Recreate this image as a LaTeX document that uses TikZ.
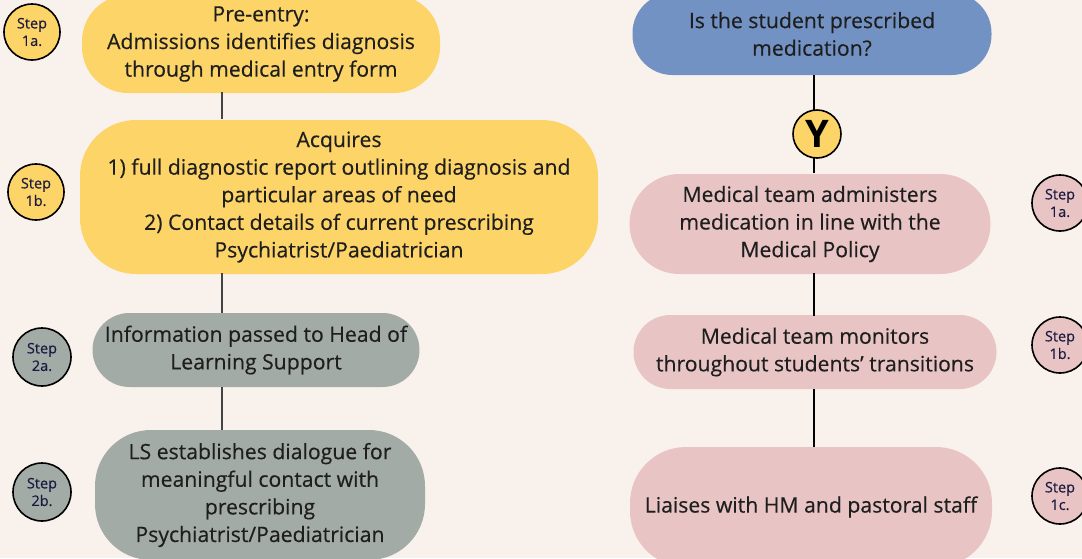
\documentclass[tikz,border=0pt]{standalone}
\usepackage{fontspec}
\setmainfont{Open Sans}
\newfontfamily\bodyfont{Open Sans}[UprightFeatures={FakeBold=0.35}]
\definecolor{bg}{HTML}{F9F1EC}
\definecolor{cyel}{HTML}{FDD468}
\definecolor{cblue}{HTML}{7392C4}
\definecolor{cgrey}{HTML}{A3ABA7}
\definecolor{cpink}{HTML}{E8C4C4}
\definecolor{ctext}{HTML}{1E1E1E}
\definecolor{cline}{HTML}{444444}
\begin{document}
\begin{tikzpicture}[x=1pt,y=-1pt,
  box/.style={rectangle, rounded corners=#1, align=center, text=ctext,
    font=\bodyfont\fontsize{21.2}{27.6}\selectfont, inner sep=0pt},
  stepc/.style={circle, draw=black, line width=1.6pt, minimum size=56pt, inner sep=0pt,
    align=center, text=ctext!85!blue, font=\bodyfont\fontsize{14.5}{17.5}\selectfont},
  conn/.style={draw=cline, line width=1.8pt}]
\useasboundingbox (0,0) rectangle (1082,558);
\clip (0,0) rectangle (1082,558);
\fill[bg] (0,0) rectangle (1082,558);

% left column
\node[box=46pt, fill=cyel, minimum width=358pt, minimum height=98pt] (pre) at (261,44)
  {Pre-entry:\\Admissions identifies diagnosis\\through medical entry form};
\node[box=56pt, fill=cyel, minimum width=518pt, minimum height=154pt] (acq) at (339,197)
  {Acquires\\1) full diagnostic report outlining diagnosis and\\particular areas of need\\2) Contact details of current prescribing\\Psychiatrist/Paediatrician};
\node[box=37pt, fill=cgrey, minimum width=327pt, minimum height=74pt] (info) at (256,350)
  {Information passed to Head of\\Learning Support};
\node[box=56pt, fill=cgrey, minimum width=330pt, minimum height=130pt] (ls) at (260,495)
  {LS establishes dialogue for\\meaningful contact with\\prescribing\\Psychiatrist/Paediatrician};

\coordinate (la1) at (222,92);  \coordinate (lb1) at (222,119);
\coordinate (la2) at (222,273); \coordinate (lb2) at (222,313);
\coordinate (la3) at (222,387); \coordinate (lb3) at (222,430);
\draw[conn] (la1) -- (lb1);
\draw[conn] (la2) -- (lb2);
\draw[conn] (la3) -- (lb3);

\node[stepc, fill=cyel] (s1a) at (32,32) {Step\\1a.};
\node[stepc, fill=cyel] (s1b) at (36,192) {Step\\1b.};
\node[stepc, fill=cgrey, minimum size=58pt] (s2a) at (42,357) {Step\\2a.};
\node[stepc, fill=cgrey, minimum size=58pt] (s2b) at (42,492) {Step\\2b.};

% right column
\node[box=40pt, fill=cblue, minimum width=359pt, minimum height=82pt] (q) at (812,34)
  {Is the student prescribed\\medication?};
\node[circle, draw=black, line width=1.6pt, fill=cyel, minimum size=48pt, inner sep=0pt,
  font=\fontsize{38}{38}\selectfont\bfseries, text=black] (y) at (817,134) {Y};
\node[box=50pt, fill=cpink, minimum width=361pt, minimum height=100pt] (m1) at (810,224)
  {Medical team administers\\medication in line with the\\Medical Policy};
\node[box=37pt, fill=cpink, minimum width=363pt, minimum height=74pt] (m2) at (815,352)
  {Medical team monitors\\throughout students’ transitions};
\node[box=56pt, fill=cpink, minimum width=362pt, minimum height=120pt] (m3) at (811,507)
  {Liaises with HM and pastoral staff};

\coordinate (ra1) at (814,75);  \coordinate (rb1) at (814,110);
\coordinate (ra2) at (814,158); \coordinate (rb2) at (814,173);
\coordinate (ra3) at (814,273); \coordinate (rb3) at (814,316);
\coordinate (ra4) at (814,389); \coordinate (rb4) at (814,447);
\draw[conn, draw=black] (ra1) -- (rb1);
\draw[conn, draw=black] (ra2) -- (rb2);
\draw[conn, draw=black] (ra3) -- (rb3);
\draw[conn, draw=black, line width=2.6pt] (ra4) -- (rb4);

\node[stepc, fill=cpink] (r1a) at (1060,203) {Step\\1a.};
\node[stepc, fill=cpink] (r1b) at (1060,345) {Step\\1b.};
\node[stepc, fill=cpink] (r1c) at (1060,496) {Step\\1c.};
\end{tikzpicture}
\end{document}
